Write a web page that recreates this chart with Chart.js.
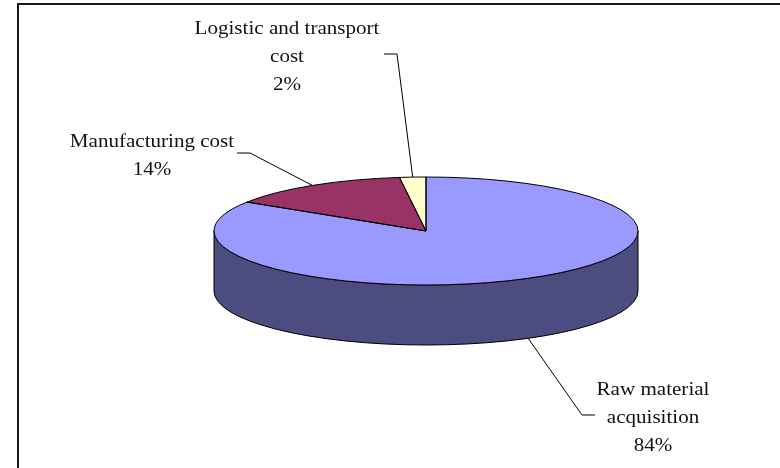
<!DOCTYPE html>
<html>
<head>
<meta charset="utf-8">
<script src="https://cdn.jsdelivr.net/npm/chart.js@4/dist/chart.umd.min.js"></script>
<style>
  html, body { margin: 0; padding: 0; background: #fff; }
  #chart { display: block; }
</style>
</head>
<body>
<canvas id="chart" width="780" height="468"></canvas>
<script>
// slice data (clockwise from 12 o'clock)
const categories = [["Raw material", "acquisition"], ["Manufacturing cost"], ["Logistic and transport", "cost"]];
const shares = [84, 14, 2];
const topColors = ["#9999FF", "#993366", "#FFFFCC"];
const sideColors = ["#4C4C80", "#4D1A33", "#808066"];

// look of the tilted pie
const squash = 54 / 212;
const depth = 60;

// where each label text sits, and the elbow of its leader line
const labelLayout = [
  { x: 653, y: 395, elbow: [[595, 415], [582, 415]], onSide: true },
  { x: 152, y: 147, elbow: [[237, 153], [250, 153]], onSide: false },
  { x: 287, y: 34, elbow: [[384, 54], [397, 54]], onSide: false },
];
// the original face is a wide Garamond, so stretch the serif a bit
const textStretch = 1.17;

/**
 * Parts of an arc that face the viewer (lower half of the ellipse)
 */
const frontParts = (a0, a1) => {
  const parts = [];
  for (let k = -1; k <= 1; k++) {
    const lo = Math.max(a0, k * 2 * Math.PI);
    const hi = Math.min(a1, k * 2 * Math.PI + Math.PI);
    if (hi > lo) parts.push([lo, hi]);
  }
  return parts;
};

const pie3d = {
  id: "pie3d",
  beforeDraw(chart) {
    const ctx = chart.ctx;
    ctx.save();
    ctx.fillStyle = "#1a1a1a";
    ctx.fillRect(17, 3, 2, chart.height - 3);
    ctx.fillRect(17, 3, chart.width - 17, 2);
    ctx.restore();
  },
  beforeDatasetsDraw(chart) {
    const ctx = chart.ctx;
    const arcs = chart.getDatasetMeta(0).data;
    const { x: cx, y: cy, outerRadius: r } = arcs[0];
    const ry = r * squash;
    // side walls
    arcs.forEach((arc, i) => {
      frontParts(arc.startAngle, arc.endAngle).forEach(([lo, hi]) => {
        ctx.beginPath();
        ctx.ellipse(cx, cy, r, ry, 0, lo, hi);
        ctx.ellipse(cx, cy + depth, r, ry, 0, hi, lo, true);
        ctx.closePath();
        ctx.fillStyle = sideColors[i];
        ctx.fill();
        ctx.lineWidth = 1;
        ctx.strokeStyle = "#000";
        ctx.stroke();
      });
    });
    // squash the top face
    ctx.save();
    ctx.translate(cx, cy);
    ctx.scale(1, squash);
    ctx.translate(-cx, -cy);
  },
  afterDatasetsDraw(chart) {
    const ctx = chart.ctx;
    ctx.restore();
    const arcs = chart.getDatasetMeta(0).data;
    const { x: cx, y: cy, outerRadius: r } = arcs[0];
    const ry = r * squash;
    ctx.save();
    ctx.lineWidth = 1;
    ctx.strokeStyle = "#000";
    arcs.forEach((arc) => {
      ctx.beginPath();
      ctx.moveTo(cx, cy);
      ctx.ellipse(cx, cy, r, ry, 0, arc.startAngle, arc.endAngle);
      ctx.closePath();
      ctx.stroke();
    });
    // labels with leader lines
    ctx.font = "18px 'Liberation Serif', 'DejaVu Serif', serif";
    ctx.textAlign = "center";
    ctx.textBaseline = "alphabetic";
    ctx.fillStyle = "#111";
    arcs.forEach((arc, i) => {
      const lay = labelLayout[i];
      const mid = (arc.startAngle + arc.endAngle) / 2;
      const ax = cx + r * Math.cos(mid);
      const ay = cy + ry * Math.sin(mid) + (lay.onSide ? depth : 0);
      ctx.beginPath();
      ctx.moveTo(lay.elbow[0][0], lay.elbow[0][1]);
      ctx.lineTo(lay.elbow[1][0], lay.elbow[1][1]);
      ctx.lineTo(ax, ay);
      ctx.stroke();
      const lines = [...categories[i], shares[i] + "%"];
      ctx.save();
      ctx.translate(lay.x, 0);
      ctx.scale(textStretch, 1);
      lines.forEach((t, j) => ctx.fillText(t, 0, lay.y + j * 28));
      ctx.restore();
    });
    ctx.restore();
  },
};

new Chart(document.getElementById("chart"), {
  type: "pie",
  data: {
    labels: categories,
    datasets: [
      {
        data: shares,
        backgroundColor: topColors,
        borderWidth: 0,
        radius: 212,
        hoverOffset: 0,
        clip: false,
      },
    ],
  },
  options: {
    responsive: false,
    animation: false,
    devicePixelRatio: 1,
    events: [],
    layout: { padding: { left: 214, right: 142, top: 19, bottom: 25 } },
    plugins: {
      legend: { display: false },
      tooltip: { enabled: false },
    },
  },
  plugins: [pie3d],
});
</script>
</body>
</html>
